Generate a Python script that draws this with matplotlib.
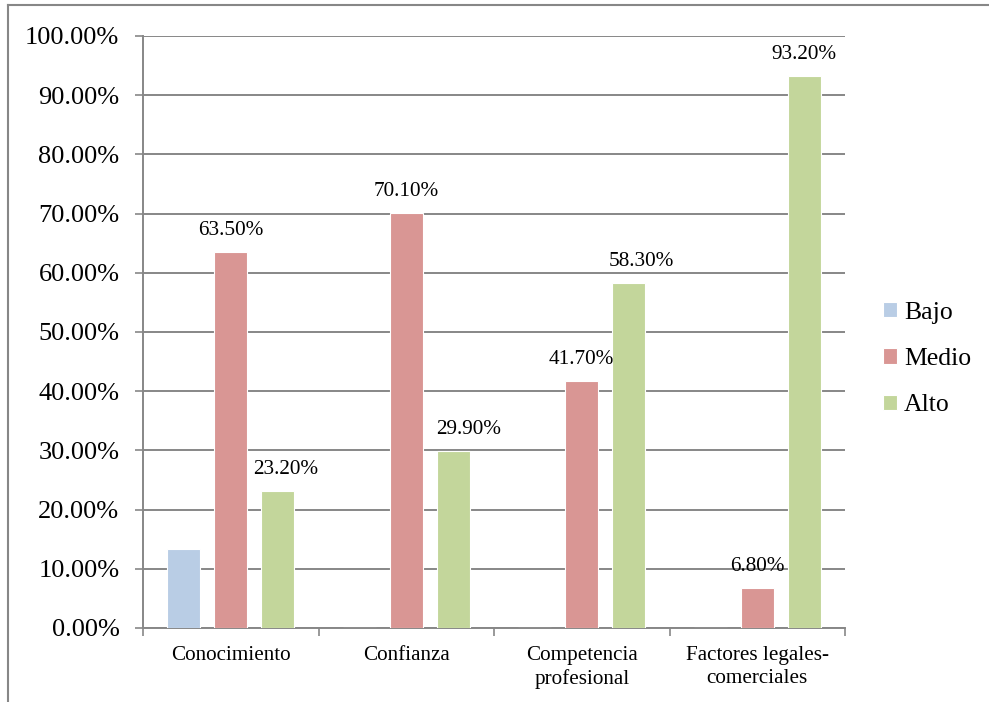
import numpy as np
import matplotlib
matplotlib.use("Agg")
import matplotlib.pyplot as plt
from matplotlib.lines import Line2D

## DATA
categorias = ["Conocimiento", "Confianza", "Competencia\nprofesional", "Factores legales-\ncomerciales"]
bajo = [13.3, 0.0, 0.0, 0.0]
medio = [63.5, 70.1, 41.7, 6.8]
alto = [23.2, 29.9, 58.3, 93.2]
y_ticks = [0, 10, 20, 30, 40, 50, 60, 70, 80, 90, 100]

plt.rcParams["font.family"] = ["Liberation Serif", "DejaVu Serif"]

GRIS = "#878787"
colores = {"Bajo": "#B9CDE5", "Medio": "#D99694", "Alto": "#C3D69B"}

fig = plt.figure(figsize=(9.89, 7.02), dpi=100)
ax = fig.add_axes([143 / 989, 1 - 628 / 702, 702 / 989, 592 / 702])

x = np.arange(len(categorias))
ancho = 0.19
paso = 0.268

series = [("Bajo", bajo), ("Medio", medio), ("Alto", alto)]
rects = {}
for i, (nombre, valores) in enumerate(series):
    rects[nombre] = ax.bar(x + (i - 1) * paso, valores, ancho, color=colores[nombre],
                           edgecolor="white", linewidth=0.8, label=nombre, zorder=3)

# etiquetas de valor (solo Medio y Alto), algunas corridas para que no choquen
corrimiento = {("Alto", 0): 6, ("Alto", 1): 11, ("Alto", 2): 9}
for nombre in ["Medio", "Alto"]:
    for j, r in enumerate(rects[nombre]):
        v = r.get_height()
        if v <= 0:
            continue
        ax.annotate(f"{v:.2f}%", (r.get_x() + r.get_width() / 2, v),
                    xytext=(corrimiento.get((nombre, j), 0), 8.5), textcoords="offset points",
                    ha="center", va="bottom", fontsize=15.3, color="black", zorder=4)

ax.set_xlim(-0.5, len(categorias) - 0.5)
ax.set_ylim(0, 100)
ax.set_yticks(y_ticks)
ax.set_yticklabels([f"{t:.2f}%" for t in y_ticks], fontsize=19)
ax.yaxis.grid(True, color=GRIS, linewidth=1.4, zorder=0)
ax.tick_params(axis="y", length=6, width=1.2, color=GRIS, pad=11)

# marcas del eje x en los limites entre categorias
ax.set_xticks(np.arange(len(categorias) + 1) - 0.5)
ax.set_xticklabels([])
ax.set_xticks(x, minor=True)
ax.set_xticklabels(categorias, minor=True, fontsize=15.2, linespacing=1.3)
ax.tick_params(axis="x", which="major", length=6, width=1.2, color=GRIS)
ax.tick_params(axis="x", which="minor", length=0, pad=13)

for s in ["top", "right"]:
    ax.spines[s].set_visible(False)
for s in ["left", "bottom"]:
    ax.spines[s].set_color(GRIS)
    ax.spines[s].set_linewidth(1.4)

ax.legend(loc="center left", bbox_to_anchor=(873 / 989, 1 - 359 / 702),
          bbox_transform=fig.transFigure, frameon=False, fontsize=18.5,
          handlelength=0.55, handleheight=0.55, handletextpad=0.25,
          labelspacing=0.95, borderaxespad=0)

# marco exterior del grafico
fig.add_artist(Line2D([8 / 989, 1.0], [1 - 5 / 702, 1 - 5 / 702], color=GRIS, linewidth=1.5))
fig.add_artist(Line2D([8 / 989, 8 / 989], [0.0, 1 - 5 / 702], color=GRIS, linewidth=1.5))

fig.savefig("out.png", dpi=100)
